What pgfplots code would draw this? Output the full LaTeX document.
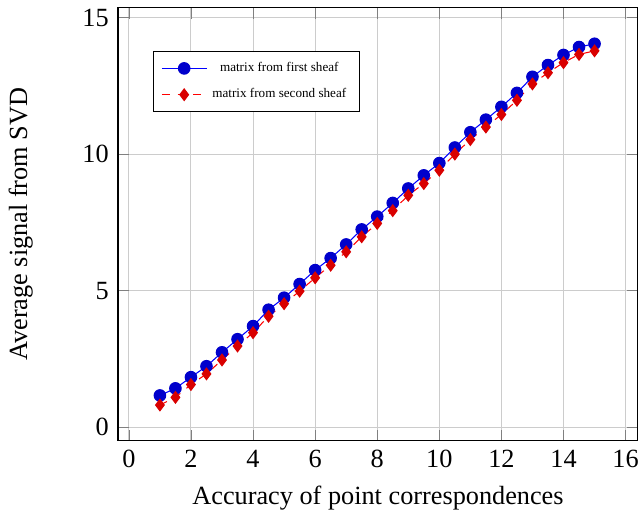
\documentclass[border=0pt]{standalone}
\usepackage{pgfplots}
\pgfplotsset{compat=1.18}
\usepackage{fontspec}
\setmainfont{Liberation Serif}
\begin{document}
\begin{tikzpicture}[trim axis right]
\begin{axis}[
  scale only axis,
  width=198pt, height=165pt,
  xmin=-0.35, xmax=16.4, ymin=-0.5, ymax=15.37,
  xtick={0,2,...,16}, ytick={0,5,10,15},
  grid=major,
  grid style={lightgray!80},
  /pgf/number format/assume math mode=true,
  xlabel={Accuracy of point correspondences},
  ylabel={Average signal from SVD},
  ylabel shift=12pt,
  legend style={at={(0.067,0.9)}, anchor=north west, font=\tiny, draw=black, row sep=1pt},
  legend cell align=center,
]
\addplot[blue, mark=*, mark size=2.2pt, mark options={fill=blue!80!black, draw=blue!80!black}] coordinates {
(1,1.16)(1.5,1.42)(2,1.83)(2.5,2.23)(3,2.74)(3.5,3.22)(4,3.70)(4.5,4.30)(5,4.74)(5.5,5.24)
(6,5.75)(6.5,6.19)(7,6.69)(7.5,7.24)(8,7.71)(8.5,8.21)(9,8.74)(9.5,9.22)(10,9.67)(10.5,10.24)
(11,10.80)(11.5,11.26)(12,11.73)(12.5,12.24)(13,12.83)(13.5,13.26)(14,13.63)(14.5,13.92)(15,14.04)
};
\addlegendentry{matrix from first sheaf}
\addplot[red, dashed, mark=diamond*, mark size=2.2pt, mark options={solid, fill=red!85!black, draw=red!85!black}] coordinates {
(1,0.81)(1.5,1.09)(2,1.56)(2.5,1.95)(3,2.46)(3.5,2.97)(4,3.46)(4.5,4.06)(5,4.52)(5.5,4.98)
(6,5.47)(6.5,5.93)(7,6.42)(7.5,6.97)(8,7.46)(8.5,7.93)(9,8.49)(9.5,8.92)(10,9.41)(10.5,10.00)
(11,10.53)(11.5,10.99)(12,11.45)(12.5,11.97)(13,12.57)(13.5,12.98)(14,13.35)(14.5,13.65)(15,13.78)
};
\addlegendentry{matrix from second sheaf}
\end{axis}
\end{tikzpicture}
\end{document}
